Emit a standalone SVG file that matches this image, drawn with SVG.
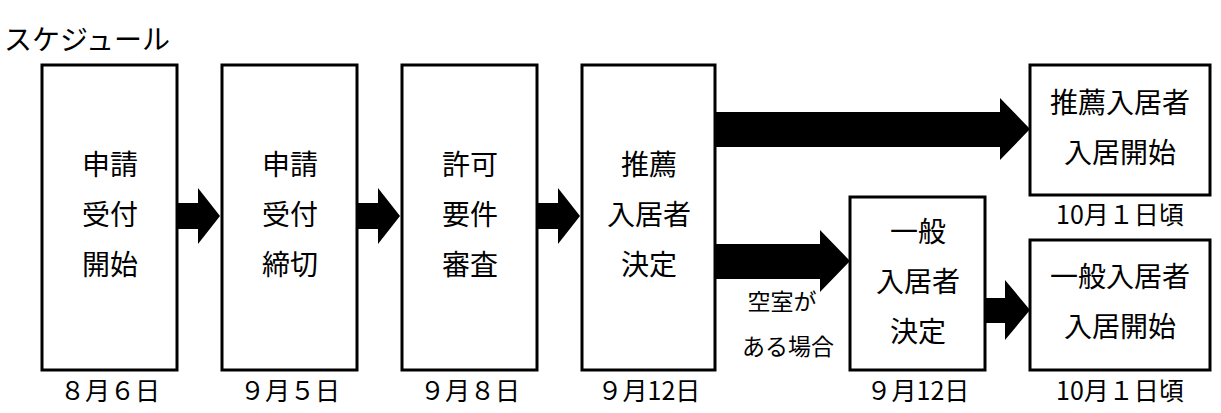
<svg xmlns="http://www.w3.org/2000/svg" width="1221" height="413" viewBox="0 0 1221 413">
<style>
.b{fill:#fff;stroke:#000;stroke-width:3}
text{font-family:"Noto Sans CJK JP","Noto Sans",sans-serif;fill:#000;text-anchor:middle}
.l{font-size:28px}
.d{font-size:25px}
.s{font-size:23px}
</style>
<rect width="1221" height="413" fill="#fff"/>
<text x="4" y="50" style="font-size:28px;text-anchor:start">スケジュール</text>
<g id="connectors" fill="#000">
<polygon points="177,203 198,203 198,188 220,216 198,244 198,229 177,229"/>
<polygon points="357,203 378,203 378,188 400,216 378,244 378,229 357,229"/>
<polygon points="537,203 558,203 558,188 580,216 558,244 558,229 537,229"/>
<polygon points="715,112 1000,112 1000,98 1030,129 1000,160 1000,147 715,147"/>
<polygon points="715,244 820,244 820,230 850,261 820,292 820,279 715,279"/>
<polygon points="985,298 1005,298 1005,280 1030,310 1005,340 1005,323 985,323"/>
</g>
<g id="n1"><rect class="b" x="42" y="65" width="135" height="305"/><text class="l" x="110" y="175">申請</text><text class="l" x="110" y="225">受付</text><text class="l" x="110" y="275">開始</text><text class="d" x="110" y="400">８月６日</text></g>
<g id="n2"><rect class="b" x="222" y="65" width="135" height="305"/><text class="l" x="290" y="175">申請</text><text class="l" x="290" y="225">受付</text><text class="l" x="290" y="275">締切</text><text class="d" x="290" y="400">９月５日</text></g>
<g id="n3"><rect class="b" x="402" y="65" width="135" height="305"/><text class="l" x="470" y="175">許可</text><text class="l" x="470" y="225">要件</text><text class="l" x="470" y="275">審査</text><text class="d" x="470" y="400">９月８日</text></g>
<g id="n4"><rect class="b" x="582" y="65" width="133" height="305"/><text class="l" x="649" y="175">推薦</text><text class="l" x="649" y="225">入居者</text><text class="l" x="649" y="275">決定</text><text class="d" x="649" y="400">９月12日</text></g>
<g id="n5"><rect class="b" x="850" y="197" width="135" height="173"/><text class="l" x="918" y="242">一般</text><text class="l" x="918" y="292">入居者</text><text class="l" x="918" y="342">決定</text><text class="d" x="918" y="400">９月12日</text></g>
<g id="n6"><rect class="b" x="1030" y="65" width="180" height="130"/><text class="l" x="1120" y="113">推薦入居者</text><text class="l" x="1120" y="163">入居開始</text><text class="d" x="1120" y="224">10月１日頃</text></g>
<g id="n7"><rect class="b" x="1030" y="240" width="180" height="130"/><text class="l" x="1120" y="287">一般入居者</text><text class="l" x="1120" y="337">入居開始</text><text class="d" x="1120" y="400">10月１日頃</text></g>
<text class="s" x="782" y="310">空室が</text>
<text class="s" x="788" y="355">ある場合</text>
</svg>
